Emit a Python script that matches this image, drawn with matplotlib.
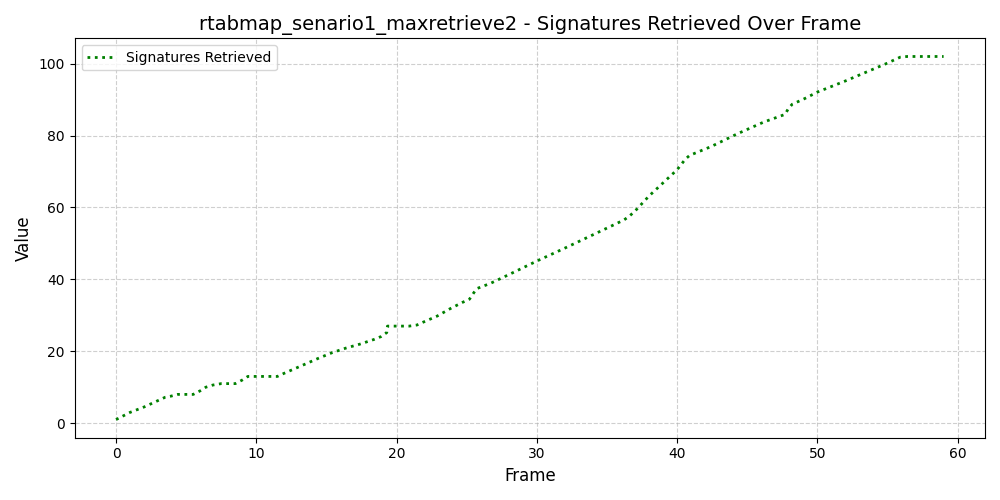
import matplotlib
matplotlib.use("Agg")
import matplotlib.pyplot as plt

# Breakpoints (frame, signatures retrieved)
frames = [0.0, 1.0, 2.0, 3.0, 3.5, 3.9, 4.4, 5.5, 6.0, 6.4, 6.9, 7.5, 8.5, 9.0, 9.4,
          11.5, 12.0, 13.0, 14.4, 15.4, 16.4, 17.4, 18.4, 18.9, 19.3, 19.35, 20.9,
          21.45, 21.9, 22.9, 23.8, 24.7, 25.2, 25.7, 26.7, 28.1, 30.0, 32.0, 34.0,
          36.2, 36.6, 37.0, 38.0, 40.0, 40.6, 40.9, 42.4, 44.3, 46.2, 47.7, 47.9,
          48.2, 49.1, 50.0, 52.0, 54.9, 55.9, 56.4, 59.0]
retrieved = [1.0, 3.0, 4.5, 6.3, 7.2, 7.5, 8.0, 8.0, 9.0, 10.0, 10.6, 11.0, 11.0, 12.0, 13.0,
             13.0, 13.9, 15.6, 18.0, 19.6, 20.9, 22.0, 23.3, 24.1, 25.2, 27.0, 27.0,
             27.3, 28.1, 29.8, 31.8, 33.6, 34.5, 37.4, 38.9, 41.5, 45.1, 48.7, 52.4,
             56.5, 57.6, 59.0, 63.2, 70.5, 73.5, 74.5, 76.9, 80.5, 83.8, 85.9, 87.3,
             88.7, 90.3, 92.1, 95.2, 100.0, 101.8, 102.0, 102.0]

fig, ax = plt.subplots(figsize=(10, 5), dpi=100)
ax.plot(frames, retrieved, linestyle=':', color='green', linewidth=2,
        label='Signatures Retrieved')
ax.set_title('rtabmap_senario1_maxretrieve2 - Signatures Retrieved Over Frame', fontsize=14)
ax.set_xlabel('Frame', fontsize=12)
ax.set_ylabel('Value', fontsize=12)
ax.grid(True, linestyle='--', alpha=0.6)
ax.legend(loc='upper left')
plt.tight_layout()
plt.savefig('out.png')
